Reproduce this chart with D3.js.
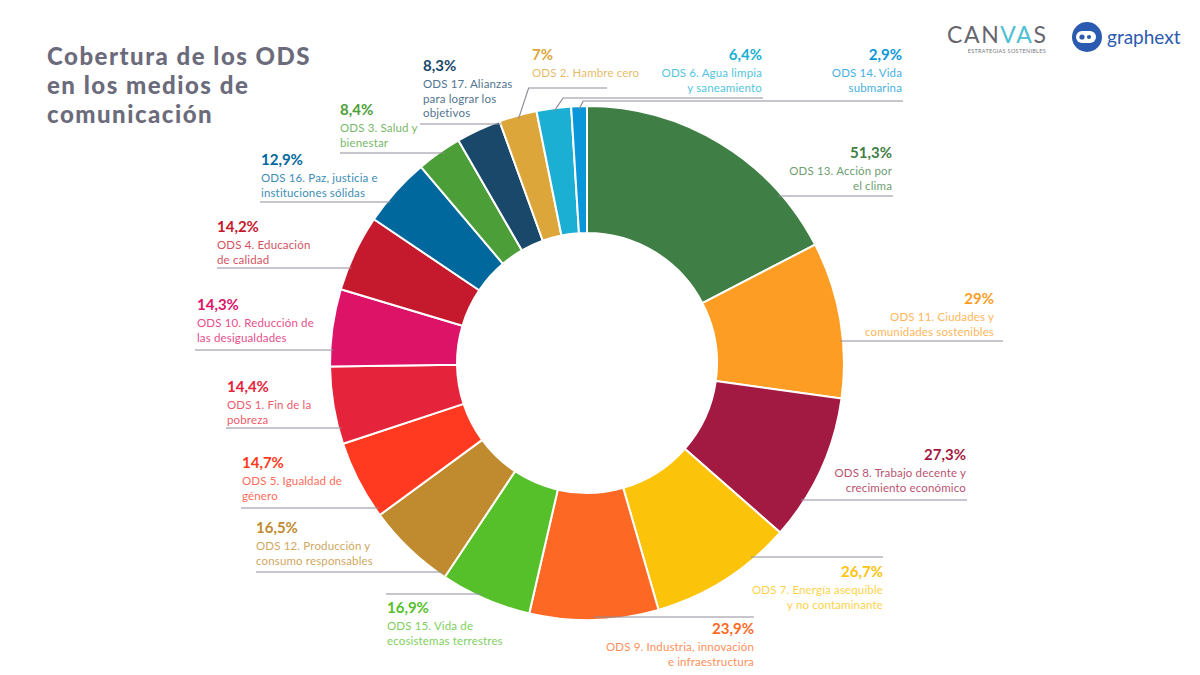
<!DOCTYPE html>
<html>
<head>
<meta charset="utf-8">
<script src="https://cdn.jsdelivr.net/npm/d3@7"></script>
<style>
  html, body { margin: 0; padding: 0; background: #ffffff; }
  svg { display: block; }
</style>
</head>
<body>
<svg id="chart" width="1200" height="675"></svg>
<script>
// ---------- DATA ----------
const categories = ["ODS 13", "ODS 11", "ODS 8", "ODS 7", "ODS 9", "ODS 15", "ODS 12", "ODS 5",
  "ODS 1", "ODS 10", "ODS 4", "ODS 16", "ODS 3", "ODS 17", "ODS 2", "ODS 6", "ODS 14"];
const values = [51.3, 29, 27.3, 26.7, 23.9, 16.9, 16.5, 14.7, 14.4, 14.3, 14.2, 12.9, 8.4, 8.3, 7, 6.4, 2.9];
const percentLabels = ["51,3%", "29%", "27,3%", "26,7%", "23,9%", "16,9%", "16,5%", "14,7%",
  "14,4%", "14,3%", "14,2%", "12,9%", "8,4%", "8,3%", "7%", "6,4%", "2,9%"];
const descriptions = [
  ["ODS 13. Acción por", "el clima"],
  ["ODS 11. Ciudades y", "comunidades sostenibles"],
  ["ODS 8. Trabajo decente y", "crecimiento económico"],
  ["ODS 7. Energía asequible", "y no contaminante"],
  ["ODS 9. Industria, innovación", "e infraestructura"],
  ["ODS 15. Vida de", "ecosistemas terrestres"],
  ["ODS 12. Producción y", "consumo responsables"],
  ["ODS 5. Igualdad de", "género"],
  ["ODS 1. Fin de la", "pobreza"],
  ["ODS 10. Reducción de", "las desigualdades"],
  ["ODS 4. Educación", "de calidad"],
  ["ODS 16. Paz, justicia e", "instituciones sólidas"],
  ["ODS 3. Salud y", "bienestar"],
  ["ODS 17. Alianzas", "para lograr los", "objetivos"],
  ["ODS 2. Hambre cero"],
  ["ODS 6. Agua limpia", "y saneamiento"],
  ["ODS 14. Vida", "submarina"]
];
const titleLines = ["Cobertura de los ODS", "en los medios de", "comunicación"];

// ---------- STYLE / LAYOUT ----------
const colors = ["#3f7e44", "#fd9d24", "#a21942", "#fcc30b", "#fd6925", "#56c02b", "#bf8b2e", "#ff3a21",
  "#e5243b", "#dd1367", "#c5192d", "#00689d", "#4c9f38", "#19486a", "#dda63a", "#1bb0d3", "#0a97d9"];

// label placement: anchor side, text x, percent baseline y, guide-line y, guide-line far end x, elbow offset
const labelLayout = [
  { anchor: "end",   tx: 892, ty: 158, lineY: 196, far: 893 },
  { anchor: "end",   tx: 994, ty: 304, lineY: 341, far: 1003 },
  { anchor: "end",   tx: 966, ty: 460, lineY: 500, far: 967 },
  { anchor: "end",   tx: 883, ty: 577, lineY: 557, far: 883 },
  { anchor: "end",   tx: 754, ty: 634, lineY: 617, far: 754 },
  { anchor: "start", tx: 387, ty: 613, lineY: 594, far: 386 },
  { anchor: "start", tx: 256, ty: 533, lineY: 572, far: 256 },
  { anchor: "start", tx: 242, ty: 468, lineY: 508, far: 241 },
  { anchor: "start", tx: 227, ty: 392, lineY: 428, far: 226 },
  { anchor: "start", tx: 197, ty: 310, lineY: 350, far: 195 },
  { anchor: "start", tx: 217, ty: 232, lineY: 268, far: 217 },
  { anchor: "start", tx: 261, ty: 165, lineY: 202, far: 260 },
  { anchor: "start", tx: 340, ty: 115, lineY: 153, far: 340 },
  { anchor: "start", tx: 423, ty: 71,  lineY: 124, far: 420 },
  { anchor: "start", tx: 532, ty: 60,  lineY: 88,  far: 607, elbowDx: 10 },
  { anchor: "end",   tx: 762, ty: 60,  lineY: 98,  far: 763, elbowDx: 9 },
  { anchor: "end",   tx: 902, ty: 60,  lineY: 101, far: 903, elbowDx: 4 }
];

const cx = 587, cy = 363, outerR = 257, innerR = 130;
const fontMain = "Lato, 'Open Sans', 'DejaVu Sans', sans-serif";
const lineColor = "#8d8d99";

const svg = d3.select("#chart");

// ---------- TITLE ----------
svg.append("g").selectAll("text").data(titleLines).join("text")
  .attr("x", 47)
  .attr("y", (d, i) => 65 + i * 29)
  .attr("font-family", fontMain)
  .attr("font-weight", 900)
  .attr("font-size", 24)
  .attr("letter-spacing", 1.5)
  .attr("fill", "#6b6b7b")
  .text(d => d);

// ---------- DONUT ----------
const data = categories.map((c, i) => ({ cat: c, value: values[i], i }));
const pie = d3.pie().sort(null).value(d => d.value).startAngle(0).endAngle(2 * Math.PI);
const arcs = pie(data);
const arc = d3.arc().innerRadius(innerR).outerRadius(outerR);
const color = d3.scaleOrdinal().domain(categories).range(colors);

const g = svg.append("g").attr("transform", `translate(${cx},${cy})`);
g.selectAll("path").data(arcs).join("path")
  .attr("d", arc)
  .attr("fill", d => color(d.data.cat))
  .attr("stroke", "#ffffff")
  .attr("stroke-width", 2)
  .attr("stroke-linejoin", "round");

// ---------- LABELS & LEADERS ----------
const leaderR = outerR - 3;
const labels = svg.append("g");
arcs.forEach((a, i) => {
  const L = labelLayout[i];
  const c = color(a.data.cat);
  const light = d3.interpolateRgb(c, "#ffffff")(0.25);
  const dy = L.lineY - cy;
  let pts;
  if (Math.abs(dy) < leaderR && L.elbowDx === undefined) {
    const dx = Math.sqrt(leaderR * leaderR - dy * dy);
    const side = L.far > cx ? 1 : -1;
    pts = [[cx + side * dx, L.lineY], [L.far, L.lineY]];
  } else {
    const mid = (a.startAngle + a.endAngle) / 2;
    const px = cx + leaderR * Math.sin(mid);
    const py = cy - leaderR * Math.cos(mid);
    const ex = px + (L.elbowDx || 0);
    pts = [[px, py], [ex, L.lineY], [L.far, L.lineY]];
  }
  labels.append("path")
    .attr("d", d3.line()(pts))
    .attr("fill", "none")
    .attr("stroke", lineColor)
    .attr("stroke-width", 1.2);

  labels.append("text")
    .attr("x", L.tx).attr("y", L.ty)
    .attr("text-anchor", L.anchor)
    .attr("font-family", fontMain)
    .attr("font-weight", 700)
    .attr("font-size", 15)
    .attr("fill", c)
    .text(percentLabels[i]);

  descriptions[i].forEach((line, k) => {
    labels.append("text")
      .attr("x", L.tx).attr("y", L.ty + 17 + k * 14.5)
      .attr("text-anchor", L.anchor)
      .attr("font-family", fontMain)
      .attr("font-weight", 400)
      .attr("font-size", 11.5)
      .attr("letter-spacing", 0.15)
      .attr("fill", light)
      .text(line);
  });
});

// ---------- LOGOS ----------
const logo = svg.append("g");
const canvasText = logo.append("text")
  .attr("x", 947).attr("y", 43)
  .attr("font-family", fontMain)
  .attr("font-size", 23)
  .attr("font-weight", 400)
  .attr("letter-spacing", 1.6)
  .attr("fill", "#66666f");
canvasText.append("tspan").text("CAN");
canvasText.append("tspan").attr("fill", "#4bc0d3").text("VA");
canvasText.append("tspan").text("S");
logo.append("text")
  .attr("x", 1046).attr("y", 53)
  .attr("text-anchor", "end")
  .attr("font-family", fontMain)
  .attr("font-size", 5.5)
  .attr("fill", "#77777f")
  .attr("letter-spacing", 0.3)
  .text("ESTRATEGIAS SOSTENIBLES");

logo.append("circle").attr("cx", 1087).attr("cy", 37).attr("r", 15).attr("fill", "#2b5bb0");
logo.append("rect").attr("x", 1076).attr("y", 31).attr("width", 20).attr("height", 12).attr("rx", 6).attr("fill", "#ffffff");
logo.append("circle").attr("cx", 1082).attr("cy", 37).attr("r", 2.6).attr("fill", "#2b5bb0");
logo.append("circle").attr("cx", 1089).attr("cy", 37).attr("r", 2.1).attr("fill", "#2b5bb0");
logo.append("text")
  .attr("x", 1107).attr("y", 44)
  .attr("font-family", fontMain)
  .attr("font-size", 19)
  .attr("font-weight", 400)
  .attr("fill", "#2b5bb0")
  .text("graphext");
</script>
</body>
</html>
